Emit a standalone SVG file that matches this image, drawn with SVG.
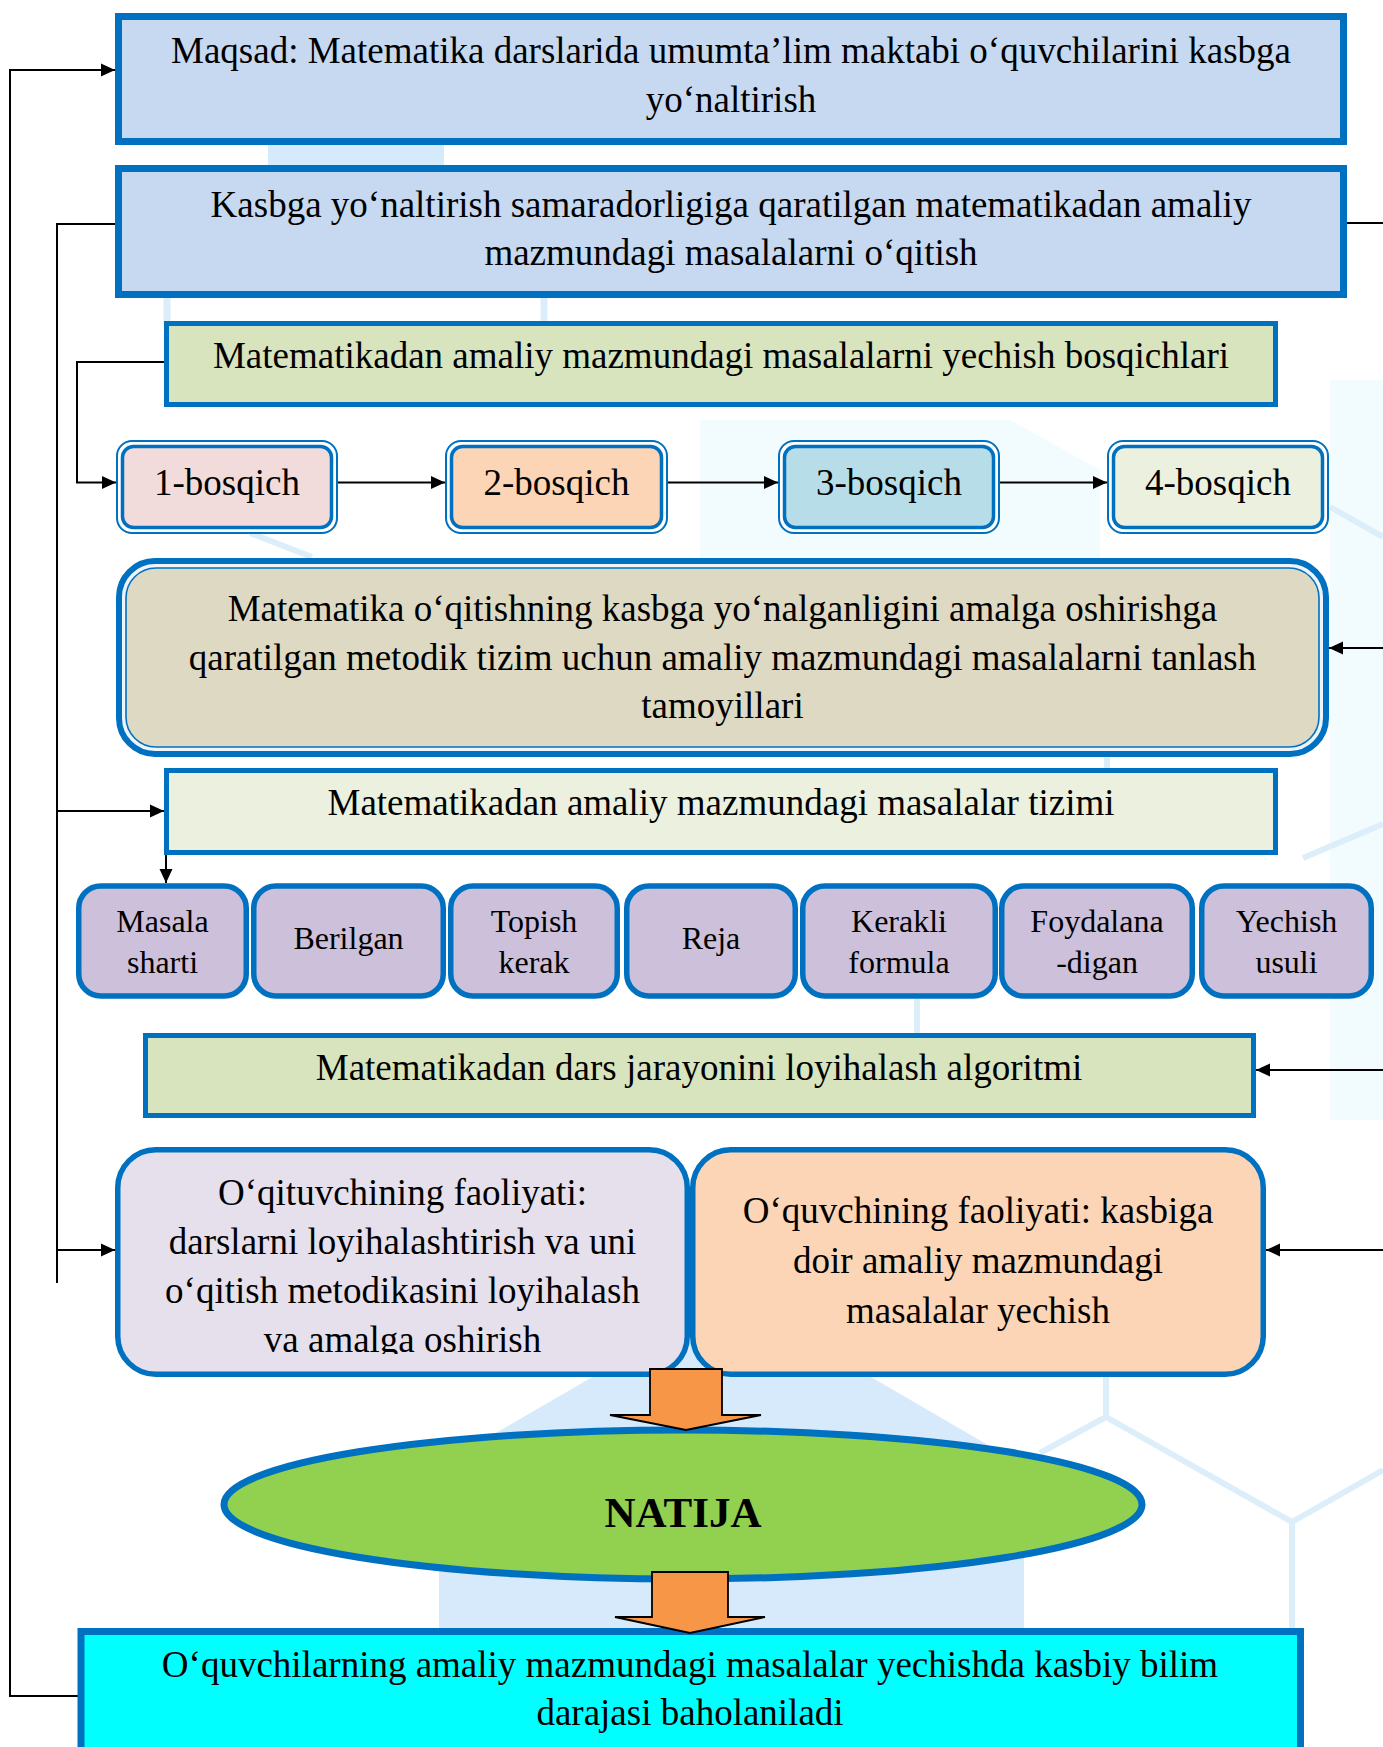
<svg xmlns="http://www.w3.org/2000/svg" width="1383" height="1747" viewBox="0 0 1383 1747">
<defs>
<style>
.t{font-family:"Liberation Serif","Times New Roman",serif;font-size:37px;fill:#000;text-anchor:middle}
.p{font-size:32px}
.b{font-weight:bold;font-size:43px}
.conn{stroke:#000;stroke-width:2;fill:none}
.thin{stroke-width:1.8}
.bx{stroke:#0070C0}
.bg{fill:none;stroke:#DDEEFB;stroke-width:6}
.orange{fill:#F79646;stroke:#000;stroke-width:1.8;stroke-linejoin:miter}
</style>
<marker id="ah" viewBox="0 0 14 14" refX="14" refY="7" markerWidth="14" markerHeight="14" markerUnits="userSpaceOnUse" orient="auto">
<path d="M0,0.5 L14,7 L0,13.5 z" fill="#000"/>
</marker>
<clipPath id="clip7"><rect x="110" y="1140" width="585" height="214"/></clipPath>
</defs>

<g id="background">
<rect x="268" y="140" width="176" height="30" fill="#D5EAFB"/>
<rect x="163.5" y="295" width="7" height="30" fill="#DCEEFB"/>
<rect x="540.5" y="295" width="7" height="30" fill="#DCEEFB"/>
<polygon points="700,420 1010,420 1100,470 1100,560 700,560" fill="#F2FBFE"/>
<rect x="1330" y="380" width="53" height="740" fill="#F2FBFE"/>
<polygon points="439,1466 732,1296 1024,1466 1024,1630 439,1630" fill="#D6EAFB"/>
<path class="bg" d="M1040,1453 L1106,1417 L1106,1377 M1106,1417 L1292,1522 L1292,1630 M1292,1522 L1383,1470"/>
<path class="bg" d="M1330,507 L1383,537 M1303,858 L1383,824 M917,999 L917,1033 M1107,757 L1107,768"/>
<path class="bg" d="M250,533 L312,557"/>
</g>

<g id="connectors">
<path class="conn" d="M78,1696 L10,1696 L10,70 L115,70" marker-end="url(#ah)"/>
<path class="conn" d="M115,224 L57,224 L57,1283"/>
<path class="conn" d="M57,811 L164,811" marker-end="url(#ah)"/>
<path class="conn" d="M57,1250 L115,1250" marker-end="url(#ah)"/>
<path class="conn" d="M164,362 L77,362 L77,482.5 L116,482.5" marker-end="url(#ah)"/>
<path class="conn" d="M338,482.5 L445,482.5" marker-end="url(#ah)"/>
<path class="conn" d="M668,482.5 L778,482.5" marker-end="url(#ah)"/>
<path class="conn" d="M1000,482.5 L1107,482.5" marker-end="url(#ah)"/>
<path class="conn" d="M166,855 L166,883" marker-end="url(#ah)"/>
<path class="conn thin" d="M1347,223 L1383,223"/>
<path class="conn thin" d="M1383,648 L1329,648" marker-end="url(#ah)"/>
<path class="conn thin" d="M1383,1070 L1256,1070" marker-end="url(#ah)"/>
<path class="conn thin" d="M1383,1250 L1266,1250" marker-end="url(#ah)"/>
</g>

<g id="maqsad">
<rect class="bx" x="118.5" y="16.5" width="1225" height="125" fill="#C6D9F1" stroke-width="7"/>
<text class="t" x="731" y="63">Maqsad: Matematika darslarida umumta’lim maktabi o‘quvchilarini kasbga</text>
<text class="t" x="731" y="112">yo‘naltirish</text>
</g>

<g id="kasbga">
<rect class="bx" x="118.5" y="168.5" width="1225" height="126" fill="#C6D9F1" stroke-width="7"/>
<text class="t" x="731" y="217">Kasbga yo‘naltirish samaradorligiga qaratilgan matematikadan amaliy</text>
<text class="t" x="731" y="265">mazmundagi masalalarni o‘qitish</text>
</g>

<g id="bosqichlari">
<rect class="bx" x="166.5" y="323.5" width="1109" height="81" fill="#D7E4BD" stroke-width="5"/>
<text class="t" x="721" y="368">Matematikadan amaliy mazmundagi masalalarni yechish bosqichlari</text>
</g>

<g id="bosqich1">
<rect class="bx" x="117" y="441" width="220" height="92" rx="15" fill="#fff" stroke-width="2"/>
<rect class="bx" x="122.5" y="446.5" width="209" height="81" rx="11" fill="#F2DCDB" stroke-width="3.5"/>
<text class="t" x="227" y="495">1-bosqich</text>
</g>
<g id="bosqich2">
<rect class="bx" x="446" y="441" width="221" height="92" rx="15" fill="#fff" stroke-width="2"/>
<rect class="bx" x="451.5" y="446.5" width="210" height="81" rx="11" fill="#FBD5B5" stroke-width="3.5"/>
<text class="t" x="556.5" y="495">2-bosqich</text>
</g>
<g id="bosqich3">
<rect class="bx" x="779" y="441" width="220" height="92" rx="15" fill="#fff" stroke-width="2"/>
<rect class="bx" x="784.5" y="446.5" width="209" height="81" rx="11" fill="#B7DDE8" stroke-width="3.5"/>
<text class="t" x="889" y="495">3-bosqich</text>
</g>
<g id="bosqich4">
<rect class="bx" x="1108" y="441" width="220" height="92" rx="15" fill="#fff" stroke-width="2"/>
<rect class="bx" x="1113.5" y="446.5" width="209" height="81" rx="11" fill="#EBF1DE" stroke-width="3.5"/>
<text class="t" x="1218" y="495">4-bosqich</text>
</g>

<g id="tamoyillar">
<rect class="bx" x="119" y="561" width="1207" height="193" rx="36" fill="#EEF4FA" stroke-width="6"/>
<rect class="bx" x="126" y="568" width="1193" height="179" rx="30" fill="#DDD9C3" stroke-width="1.6"/>
<text class="t" x="722.5" y="621">Matematika o‘qitishning kasbga yo‘nalganligini amalga oshirishga</text>
<text class="t" x="722.5" y="670">qaratilgan metodik tizim uchun amaliy mazmundagi masalalarni tanlash</text>
<text class="t" x="722.5" y="718">tamoyillari</text>
</g>

<g id="tizim">
<rect class="bx" x="166.5" y="770.5" width="1109" height="82" fill="#EBF1DE" stroke-width="5"/>
<text class="t" x="721" y="815">Matematikadan amaliy mazmundagi masalalar tizimi</text>
</g>

<g id="masala-sharti">
<rect class="bx" x="78.75" y="886" width="167.5" height="110" rx="22" fill="#CCC0DA" stroke-width="5.5"/>
<text class="t p" x="162.5" y="932">Masala</text>
<text class="t p" x="162.5" y="973">sharti</text>
</g>
<g id="berilgan">
<rect class="bx" x="253.75" y="886" width="189.5" height="110" rx="22" fill="#CCC0DA" stroke-width="5.5"/>
<text class="t p" x="348.5" y="949">Berilgan</text>
</g>
<g id="topish">
<rect class="bx" x="450.75" y="886" width="166.5" height="110" rx="22" fill="#CCC0DA" stroke-width="5.5"/>
<text class="t p" x="534" y="932">Topish</text>
<text class="t p" x="534" y="973">kerak</text>
</g>
<g id="reja">
<rect class="bx" x="626.75" y="886" width="168.5" height="110" rx="22" fill="#CCC0DA" stroke-width="5.5"/>
<text class="t p" x="711" y="949">Reja</text>
</g>
<g id="kerakli">
<rect class="bx" x="802.75" y="886" width="192.5" height="110" rx="22" fill="#CCC0DA" stroke-width="5.5"/>
<text class="t p" x="899" y="932">Kerakli</text>
<text class="t p" x="899" y="973">formula</text>
</g>
<g id="foydalanadigan">
<rect class="bx" x="1001.75" y="886" width="190.5" height="110" rx="22" fill="#CCC0DA" stroke-width="5.5"/>
<text class="t p" x="1097" y="932">Foydalana</text>
<text class="t p" x="1097" y="973">-digan</text>
</g>
<g id="yechish">
<rect class="bx" x="1201.75" y="886" width="169.5" height="110" rx="22" fill="#CCC0DA" stroke-width="5.5"/>
<text class="t p" x="1286.5" y="932">Yechish</text>
<text class="t p" x="1286.5" y="973">usuli</text>
</g>

<g id="algoritm">
<rect class="bx" x="145.5" y="1035.5" width="1108" height="80" fill="#D7E4BD" stroke-width="5"/>
<text class="t" x="699" y="1080">Matematikadan dars jarayonini loyihalash algoritmi</text>
</g>

<g id="oqituvchi">
<rect class="bx" x="117.75" y="1149.75" width="569.5" height="224.5" rx="38" fill="#E5E0EC" stroke-width="5.5"/>
<g clip-path="url(#clip7)">
<text class="t" x="402.5" y="1205">O‘qituvchining faoliyati:</text>
<text class="t" x="402.5" y="1254">darslarni loyihalashtirish va uni</text>
<text class="t" x="402.5" y="1303">o‘qitish metodikasini loyihalash</text>
<text class="t" x="402.5" y="1352">va amalga oshirish</text>
</g>
</g>

<g id="oquvchi">
<rect class="bx" x="692.75" y="1149.75" width="570.5" height="224.5" rx="38" fill="#FBD5B5" stroke-width="5.5"/>
<text class="t" x="978" y="1223">O‘quvchining faoliyati: kasbiga</text>
<text class="t" x="978" y="1273">doir amaliy mazmundagi</text>
<text class="t" x="978" y="1323">masalalar yechish</text>
</g>

<g id="natija">
<ellipse class="bx" cx="683" cy="1504.5" rx="459" ry="74.5" fill="#92D050" stroke-width="7"/>
<text class="t b" x="683" y="1527">NATIJA</text>
</g>

<g id="baholash">
<rect class="bx" x="81" y="1631.5" width="1219.5" height="130" fill="#00FFFF" stroke-width="7"/>
<text class="t" x="690" y="1677">O‘quvchilarning amaliy mazmundagi masalalar yechishda kasbiy bilim</text>
<text class="t" x="690" y="1725">darajasi baholaniladi</text>
</g>

<g id="block-arrows">
<polygon class="orange" points="650,1369 722,1369 722,1415 761,1415 686,1430 610,1415 650,1415"/>
<polygon class="orange" points="652,1572 728,1572 728,1617 765,1617 690,1633 615,1617 652,1617"/>
</g>
</svg>
